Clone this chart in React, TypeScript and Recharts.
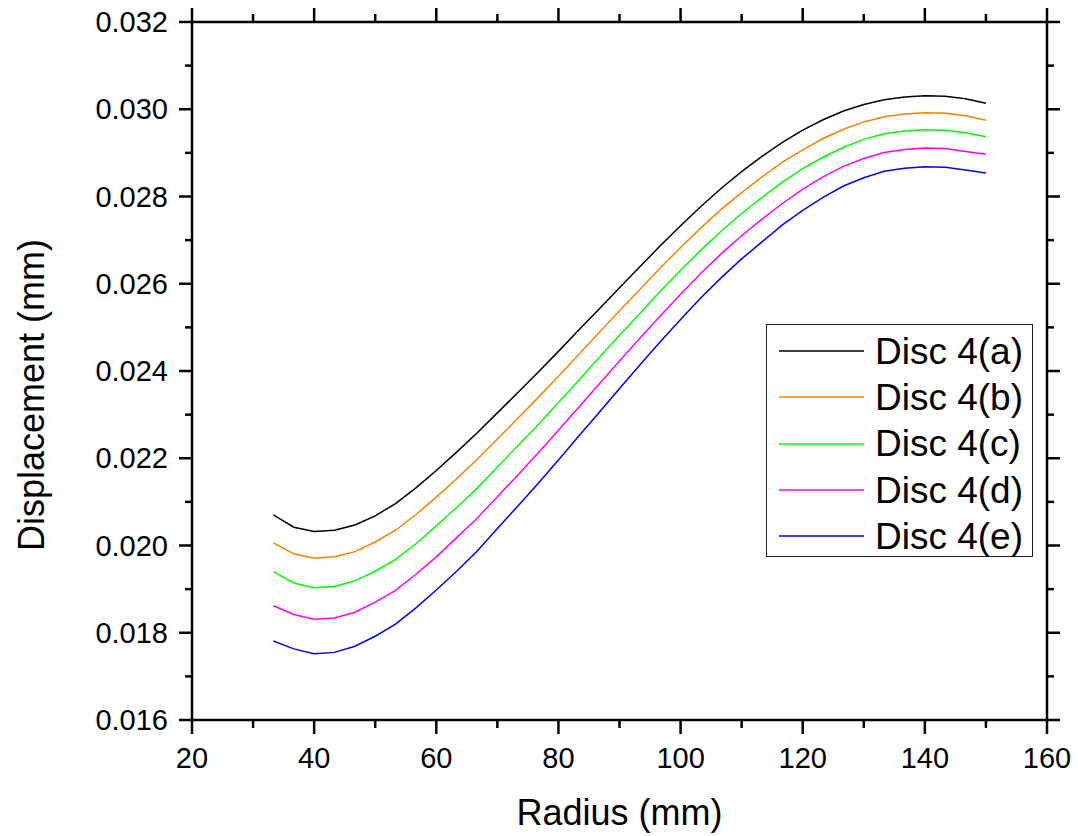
import React from 'react';
import { LineChart, Line, XAxis, YAxis, Legend, Label } from 'recharts';

const radius = [
  33.33, 36.67, 40, 43.33, 46.67, 50, 53.33, 56.67, 60, 63.33, 66.67, 70,
  73.33, 76.67, 80, 83.33, 86.67, 90, 93.33, 96.67, 100, 103.33, 106.67, 110,
  113.33, 116.67, 120, 123.33, 126.67, 130, 133.33, 136.67, 140, 143.33, 146.67, 150,
];

const discA = [
  0.0207, 0.02042, 0.02032, 0.02035, 0.02047, 0.02068, 0.02096, 0.02132, 0.02172, 0.02214, 0.02258, 0.02304,
  0.0235, 0.02397, 0.02445, 0.02494, 0.02542, 0.02591, 0.02639, 0.02687, 0.02733, 0.02777, 0.02819, 0.02857,
  0.02892, 0.02924, 0.02952, 0.02976, 0.02996, 0.03011, 0.03022, 0.03028, 0.03031, 0.0303, 0.03024, 0.03014,
];
const discB = [
  0.02006, 0.01981, 0.01971, 0.01974, 0.01986, 0.02008, 0.02035, 0.02071, 0.02111, 0.02153, 0.02197, 0.02244,
  0.02291, 0.02339, 0.02388, 0.02438, 0.02488, 0.02538, 0.02587, 0.02636, 0.02683, 0.02728, 0.02771, 0.02809,
  0.02845, 0.02879, 0.02907, 0.02933, 0.02954, 0.02971, 0.02983, 0.02989, 0.02992, 0.02991, 0.02985, 0.02975,
];
const discC = [
  0.0194, 0.01914, 0.01903, 0.01906, 0.01919, 0.01941, 0.01968, 0.02004, 0.02045, 0.02087, 0.02131, 0.0218,
  0.02228, 0.02277, 0.02328, 0.02379, 0.02431, 0.02482, 0.02532, 0.02583, 0.02631, 0.02677, 0.02721, 0.02761,
  0.02798, 0.02833, 0.02864, 0.0289, 0.02913, 0.02931, 0.02944, 0.0295, 0.02953, 0.02952, 0.02946, 0.02937,
];
const discD = [
  0.01862, 0.01842, 0.01831, 0.01834, 0.01847, 0.0187, 0.01897, 0.01934, 0.01974, 0.02018, 0.02062, 0.02112,
  0.02161, 0.02212, 0.02264, 0.02317, 0.0237, 0.02423, 0.02475, 0.02526, 0.02576, 0.02624, 0.02669, 0.0271,
  0.02748, 0.02784, 0.02817, 0.02845, 0.02869, 0.02887, 0.02901, 0.02908, 0.02911, 0.0291, 0.02903, 0.02897,
];
const discE = [
  0.01781, 0.01763, 0.01752, 0.01755, 0.01769, 0.01792, 0.0182, 0.01857, 0.01898, 0.01941, 0.01987, 0.02039,
  0.0209, 0.02142, 0.02196, 0.02251, 0.02305, 0.0236, 0.02414, 0.02467, 0.02518, 0.02568, 0.02614, 0.02657,
  0.02696, 0.02735, 0.02768, 0.02798, 0.02824, 0.02843, 0.02858, 0.02865, 0.02868, 0.02867, 0.02861, 0.02854,
];

const seriesNames = ['Disc 4(a)', 'Disc 4(b)', 'Disc 4(c)', 'Disc 4(d)', 'Disc 4(e)'];
const seriesKeys = ['a', 'b', 'c', 'd', 'e'];
const seriesColors = ['#000000', '#ff8000', '#00ff00', '#ff00ff', '#0000ff'];

// every 10 along x (labels on multiples of 20), every 0.001 along y (labels on even ones)
const xTicks = [20, 30, 40, 50, 60, 70, 80, 90, 100, 110, 120, 130, 140, 150, 160];
const yTicks = [
  0.016, 0.017, 0.018, 0.019, 0.02, 0.021, 0.022, 0.023, 0.024,
  0.025, 0.026, 0.027, 0.028, 0.029, 0.03, 0.031, 0.032,
];

const data = radius.map((r, i) => ({
  radius: r,
  a: discA[i],
  b: discB[i],
  c: discC[i],
  d: discD[i],
  e: discE[i],
}));

const FONT = '"Liberation Sans", Arial, sans-serif';
const AXIS_W = 2.5;

const isMajorX = (v: number) => v % 20 === 0;
const isMajorY = (v: number) => Math.round(v * 1000) % 2 === 0;

function BottomTick({ x, y, payload }: any) {
  const major = isMajorX(payload.value);
  return (
    <g>
      <line x1={x} y1={y} x2={x} y2={y + (major ? 14 : 8)} stroke="#000" strokeWidth={AXIS_W} />
      {major && (
        <text x={x} y={y + 48} textAnchor="middle" fontSize={29} fontFamily={FONT} fill="#000">
          {payload.value}
        </text>
      )}
    </g>
  );
}

function TopTick({ x, y, payload }: any) {
  const major = isMajorX(payload.value);
  return <line x1={x} y1={y} x2={x} y2={y - (major ? 14 : 8)} stroke="#000" strokeWidth={AXIS_W} />;
}

function LeftTick({ x, y, payload }: any) {
  const major = isMajorY(payload.value);
  return (
    <g>
      <line x1={x} y1={y} x2={x - (major ? 13 : 7)} y2={y} stroke="#000" strokeWidth={AXIS_W} />
      {major && (
        <text x={x - 24} y={y + 10} textAnchor="end" fontSize={29} fontFamily={FONT} fill="#000">
          {payload.value.toFixed(3)}
        </text>
      )}
    </g>
  );
}

function RightTick({ x, y, payload }: any) {
  const major = isMajorY(payload.value);
  return <line x1={x} y1={y} x2={x + (major ? 13 : 7)} y2={y} stroke="#000" strokeWidth={AXIS_W} />;
}

function YTitle({ viewBox }: any) {
  const cx = viewBox.x + 31;
  const cy = viewBox.y + viewBox.height / 2 + 24;
  return (
    <text
      transform={`translate(${cx},${cy}) rotate(-90)`}
      textAnchor="middle"
      dominantBaseline="central"
      fontSize={36}
      fontFamily={FONT}
      fill="#000"
    >
      Displacement (mm)
    </text>
  );
}

function LegendBox({ payload }: any) {
  return (
    <div
      style={{
        border: '1.5px solid #222',
        background: '#fff',
        width: 267,
        height: 233,
        boxSizing: 'border-box',
        paddingTop: 3,
      }}
    >
      {(payload || []).map((p: any, i: number) => (
        <div key={p.value} style={{ display: 'flex', alignItems: 'center', height: 46.3 }}>
          <svg width={85} height={4} style={{ marginLeft: 12, display: 'block' }}>
            <line x1={0} y1={2} x2={85} y2={2} stroke={seriesColors[i]} strokeWidth={1.5} />
          </svg>
          <span style={{ marginLeft: 11, fontSize: 37, fontFamily: FONT, color: '#000', lineHeight: 1 }}>
            {p.value}
          </span>
        </div>
      ))}
    </div>
  );
}

export default function App() {
  return (
    <div style={{ position: 'absolute', left: 0, top: 0, background: '#fff' }}>
      <LineChart width={1078} height={836} data={data} margin={{ top: 0, right: 0, bottom: 0, left: 0 }}>
        <XAxis
          xAxisId="bottom"
          dataKey="radius"
          type="number"
          domain={[20, 160]}
          ticks={xTicks}
          interval={0}
          height={116}
          tickSize={0}
          tickMargin={0}
          tickLine={false}
          tick={<BottomTick />}
          axisLine={{ stroke: '#000', strokeWidth: AXIS_W }}
          allowDataOverflow
        >
          <Label
            value="Radius (mm)"
            position="insideBottom"
            offset={11}
            fontSize={36}
            fontFamily={FONT}
            fill="#000"
          />
        </XAxis>
        <XAxis
          xAxisId="top"
          orientation="top"
          dataKey="radius"
          type="number"
          domain={[20, 160]}
          ticks={xTicks}
          interval={0}
          height={22}
          tickSize={0}
          tickMargin={0}
          tickLine={false}
          tick={<TopTick />}
          axisLine={{ stroke: '#000', strokeWidth: AXIS_W }}
          allowDataOverflow
        />
        <YAxis
          yAxisId="left"
          type="number"
          domain={[0.016, 0.032]}
          ticks={yTicks}
          interval={0}
          width={192}
          tickSize={0}
          tickMargin={0}
          tickLine={false}
          tick={<LeftTick />}
          axisLine={{ stroke: '#000', strokeWidth: AXIS_W }}
          allowDataOverflow
        >
          <Label content={<YTitle />} />
        </YAxis>
        <YAxis
          yAxisId="right"
          orientation="right"
          type="number"
          domain={[0.016, 0.032]}
          ticks={yTicks}
          interval={0}
          width={31}
          tickSize={0}
          tickMargin={0}
          tickLine={false}
          tick={<RightTick />}
          axisLine={{ stroke: '#000', strokeWidth: AXIS_W }}
          allowDataOverflow
        />
        <Legend
          layout="vertical"
          align="center"
          verticalAlign="middle"
          content={<LegendBox />}
          wrapperStyle={{ left: 766, top: 324, width: 267, height: 233 }}
        />
        {seriesKeys.map((k, i) => (
          <Line
            key={k}
            xAxisId="bottom"
            yAxisId="left"
            type="linear"
            dataKey={k}
            name={seriesNames[i]}
            stroke={seriesColors[i]}
            strokeWidth={1.5}
            dot={false}
            activeDot={false}
            isAnimationActive={false}
          />
        ))}
      </LineChart>
    </div>
  );
}
